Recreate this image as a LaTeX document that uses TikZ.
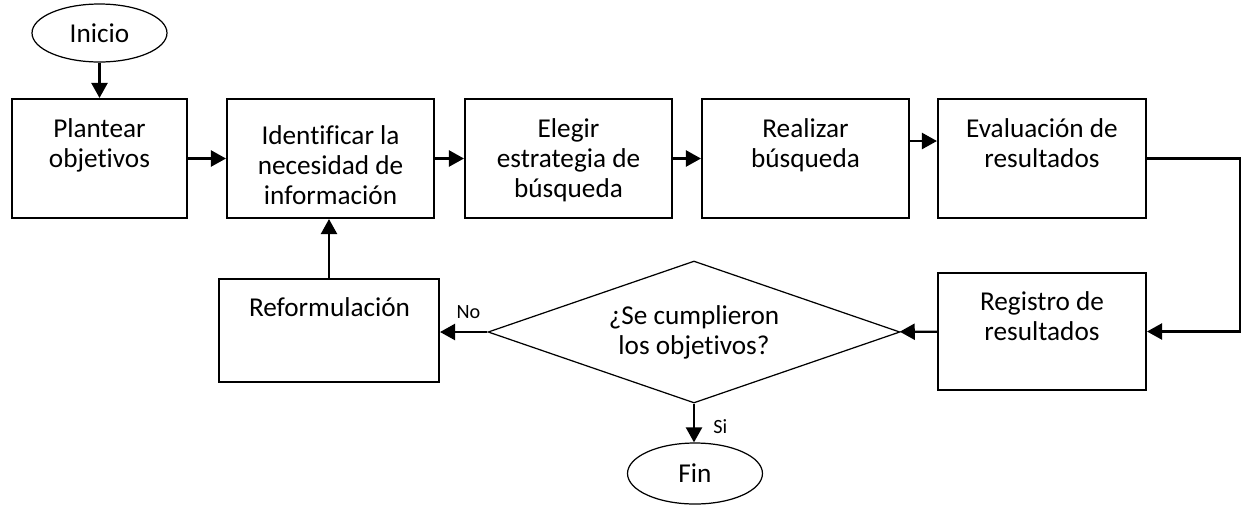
\documentclass[tikz,border=0pt]{standalone}
\usepackage{fontspec}
\setmainfont[Ligatures=NoCommon]{Carlito}
\usetikzlibrary{shapes.geometric,arrows.meta}
\newcommand{\boxtext}[2][1.58cm]{\parbox[c][#1][t]{3.2cm}{\centering #2}}

\begin{document}
\begin{tikzpicture}[x=0.02cm,y=-0.02cm,
  font=\fontsize{15.5}{17}\selectfont,
  proc/.style={draw,line width=1.2pt,minimum width=4.14cm,minimum height=2.38cm,inner sep=0pt},
  term/.style={draw,ellipse,line width=0.7pt,minimum width=2.7cm,minimum height=1.16cm,inner sep=0pt},
  flow/.style={line width=1.3pt,-{Triangle[length=3mm,width=3.2mm]}},
  tag/.style={font=\fontsize{11.5}{13}\selectfont,inner sep=1pt}]
\useasboundingbox (0,0) rectangle (1242,505);
\def\yrow{158.5}
\node[term] (inicio) at (99.5,33) {Inicio};
\node[proc,minimum width=3.5cm] (plan) at (99.5,\yrow) {\boxtext{Plantear\\objetivos}};
\node[proc] (ident) at (330.5,\yrow) {\boxtext[1.32cm]{Identificar la\\necesidad de\\información}};
\node[proc] (elegir) at (568.5,\yrow) {\boxtext{Elegir\\estrategia de\\búsqueda}};
\node[proc] (realizar) at (805.5,\yrow) {\boxtext{Realizar\\búsqueda}};
\node[proc,minimum width=4.16cm] (eval) at (1042,\yrow) {\boxtext{Evaluación de\\resultados}};
\node[proc,minimum width=4.16cm,minimum height=2.34cm] (registro) at (1042,331.5) {\boxtext{Registro de\\resultados}};
\node[draw,diamond,aspect=2.9,line width=0.7pt,minimum width=8.24cm,minimum height=2.84cm,inner sep=0pt,align=center] (cumple) at (694,332) {¿Se cumplieron\\los objetivos?};
\node[proc,minimum width=4.4cm,minimum height=2.06cm] (reform) at (329,330.5) {\boxtext[1.3cm]{Reformulación}};
\node[term,minimum height=1.22cm] (fin) at (695,473.5) {Fin};
\coordinate (bend) at (1240,\yrow);
\draw[flow] (inicio) -- (plan);
\draw[flow] (plan) -- (ident);
\draw[flow] (ident) -- (elegir);
\draw[flow] (elegir) -- (realizar);
\draw[flow] ([yshift=0.35cm]realizar.east) -- ([yshift=0.35cm]eval.west);
\draw[flow] (eval) -- (bend) |- (registro);
\draw[flow] (registro) -- (cumple);
\draw[flow] (cumple.west) -- (cumple.west -| reform.east) node[tag,pos=0.4,above=0.2cm] (no) {No};
\draw[flow] (reform.north) -- (reform.north |- ident.south);
\draw[flow] (cumple.south) -- (cumple.south |- fin.north) node[tag,pos=0.6,right=0.33cm] (si) {Si};
\end{tikzpicture}
\end{document}
